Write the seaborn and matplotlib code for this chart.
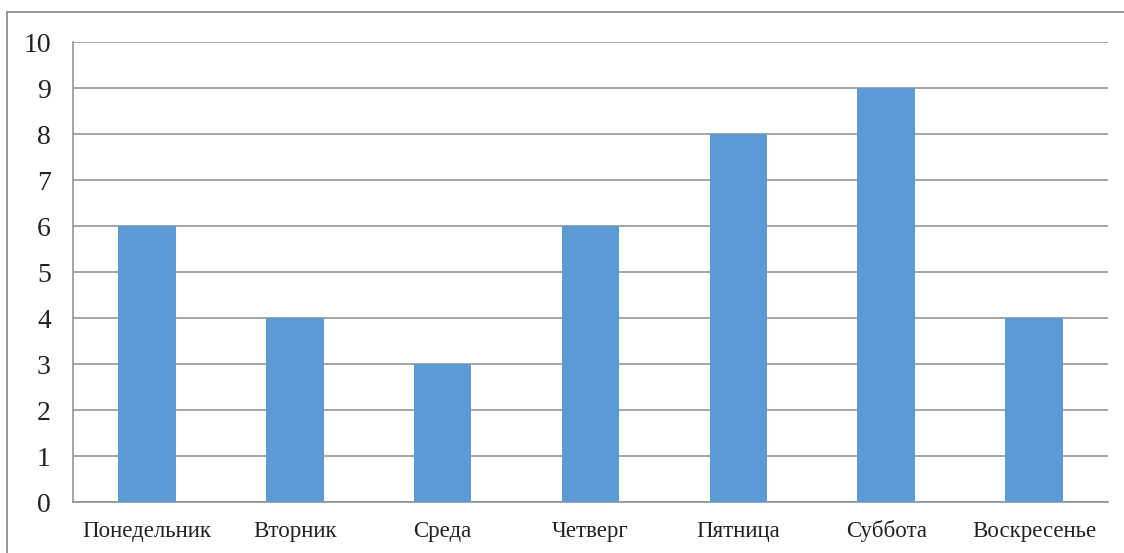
import matplotlib
matplotlib.use("Agg")
import matplotlib.pyplot as plt
import seaborn as sns
import pandas as pd
from matplotlib.patches import Rectangle

# Data
days = ["Понедельник", "Вторник", "Среда", "Четверг", "Пятница", "Суббота", "Воскресенье"]
values = [6, 4, 3, 6, 8, 9, 4]

df = pd.DataFrame({"day": days, "value": values})

sns.set_style("white")
plt.rcParams['font.family'] = ['Liberation Serif', 'DejaVu Serif']

fig = plt.figure(figsize=(11.24, 5.53), dpi=100)
ax = fig.add_axes([73/1124, 1 - 502/553, (1108 - 73)/1124, (502 - 42)/553])

grid_c = "#8c8c8c"
sns.barplot(data=df, x="day", y="value", color="#5B9BD5", width=0.39,
            saturation=1, ax=ax, zorder=3, edgecolor="none")

ax.set_ylim(0, 10)
ax.set_xlim(-0.5, len(days) - 0.5)
ax.set_yticks(range(0, 11))
ax.yaxis.grid(True, color=grid_c, linewidth=1.1, zorder=0)
ax.set_axisbelow(True)
ax.set_xlabel("")
ax.set_ylabel("")

for s in ["top", "right"]:
    ax.spines[s].set_visible(False)
for s in ["left", "bottom"]:
    ax.spines[s].set_color(grid_c)
    ax.spines[s].set_linewidth(1.1)

ax.tick_params(axis="y", length=6, color=grid_c, width=1.1, pad=10, labelsize=20, labelcolor="#222222")
ax.tick_params(axis="x", which="major", length=0, pad=25, labelsize=16.5, labelcolor="#222222")
for lbl in ax.get_xticklabels():
    lbl.set_va("baseline")
ax.set_xticks([i - 0.5 for i in range(len(days) + 1)], minor=True)
ax.tick_params(axis="x", which="minor", length=6, color=grid_c, width=1.1)

# outer chart border
fig.patches.append(Rectangle((7/1124, -0.05), 1.1, 1 - 12/553 + 0.05,
                             transform=fig.transFigure, fill=False,
                             edgecolor="#8c8c8c", linewidth=1.3))

fig.savefig("out.png", dpi=100)
